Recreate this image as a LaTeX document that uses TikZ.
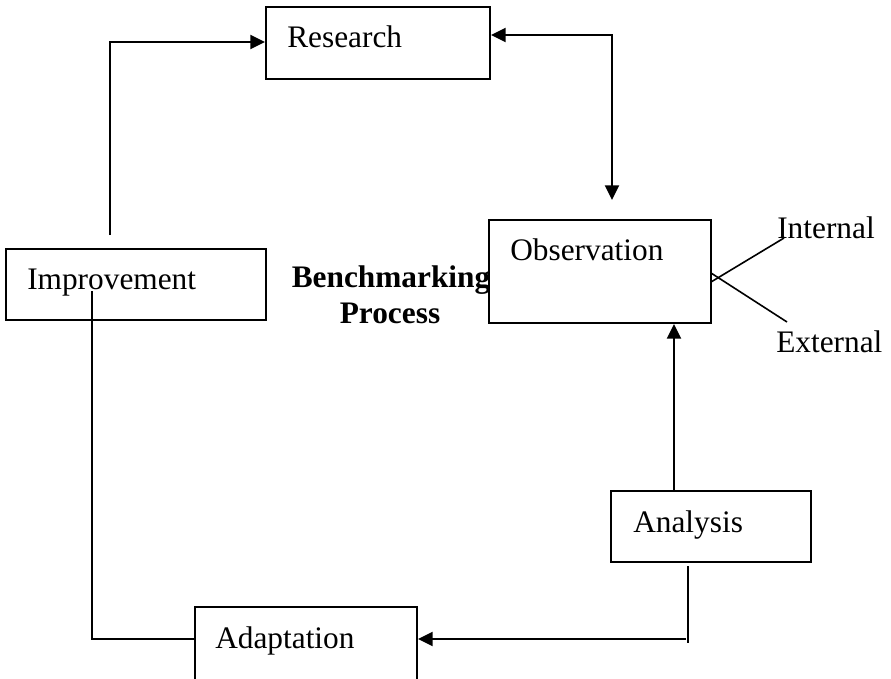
\documentclass[tikz,border=0pt]{standalone}
\usepackage{fontspec}
\setmainfont{Liberation Serif}
\usetikzlibrary{arrows.meta,fit,calc}
\tikzset{
  box/.style={draw, line width=1.5pt, inner sep=0pt},
  txt/.style={inner sep=0pt, anchor=base west, font=\fontsize{23.5}{28}\selectfont},
  btxt/.style={inner sep=0pt, anchor=base, font=\fontsize{23.5}{28}\selectfont\bfseries},
  conn/.style={line width=1.5pt},
  thinconn/.style={line width=1.2pt},
  arr/.style={line width=1.5pt, -{Triangle[length=11pt,width=10.5pt]}},
  dblarr/.style={line width=1.5pt, {Triangle[length=11pt,width=10.5pt]}-{Triangle[length=11pt,width=10.5pt]}}
}
\begin{document}
\begin{tikzpicture}[x=0.75pt,y=-0.75pt]
\useasboundingbox (0,0) rectangle (891,678);
\clip (0,0) rectangle (891,678);
\fill[white] (0,0) rectangle (891,678);
% boxes
\node[box, fit={(266,7)(490,79)}] (research) {};
\node[box, fit={(489,220)(711,323)}] (observation) {};
\node[box, fit={(6,249)(266,320)}] (improvement) {};
\node[box, fit={(611,491)(811,562)}] (analysis) {};
\node[box, fit={(195,607)(417,700)}] (adaptation) {};
% texts
\node[txt] (researchT) at (287,47) {Research};
\node[txt] (observationT) at (510,260) {Observation};
\node[txt] (improvementT) at (27,289) {Improvement};
\node[txt] (analysisT) at (633,532) {Analysis};
\node[txt] (adaptationT) at (215,648) {Adaptation};
\node[txt] (internalT) at (777,238) {Internal};
\node[txt] (externalT) at (776,352) {External};
\node[btxt] (benchT) at (391,287) {Benchmarking};
\node[btxt] (processT) at (390,323) {Process};
% coordinates
\coordinate (iStart) at (110,235);
\coordinate (iBend) at (110,42);
\coordinate (rBend) at (612,35);
\coordinate (oTip) at (612,200);
\coordinate (aUp) at (674,491);
\coordinate (aDownS) at (688,566);
\coordinate (aDownE) at (688,643);
\coordinate (aH) at (686,639);
\coordinate (iDown) at (92,291);
\coordinate (iCorner) at (92,639);
\coordinate (o1) at (711,282);
\coordinate (o2) at (711,273);
\coordinate (inEnd) at (784,238);
\coordinate (exEnd) at (787,322);
% connectors
\draw[arr] (iStart) -- (iBend) -- (research.west |- iBend);
\draw[dblarr] (research.east |- rBend) -- (rBend) -- (oTip);
\draw[arr] (analysis.north -| aUp) -- (observation.south -| aUp);
\draw[conn] (aDownS) -- (aDownE);
\draw[arr] (aH) -- (adaptation.east |- aH);
\draw[thinconn] (iDown) -- (iCorner) -- (adaptation.west |- iCorner);
\draw[thinconn] (o1) -- (inEnd);
\draw[thinconn] (o2) -- (exEnd);
\end{tikzpicture}
\end{document}
